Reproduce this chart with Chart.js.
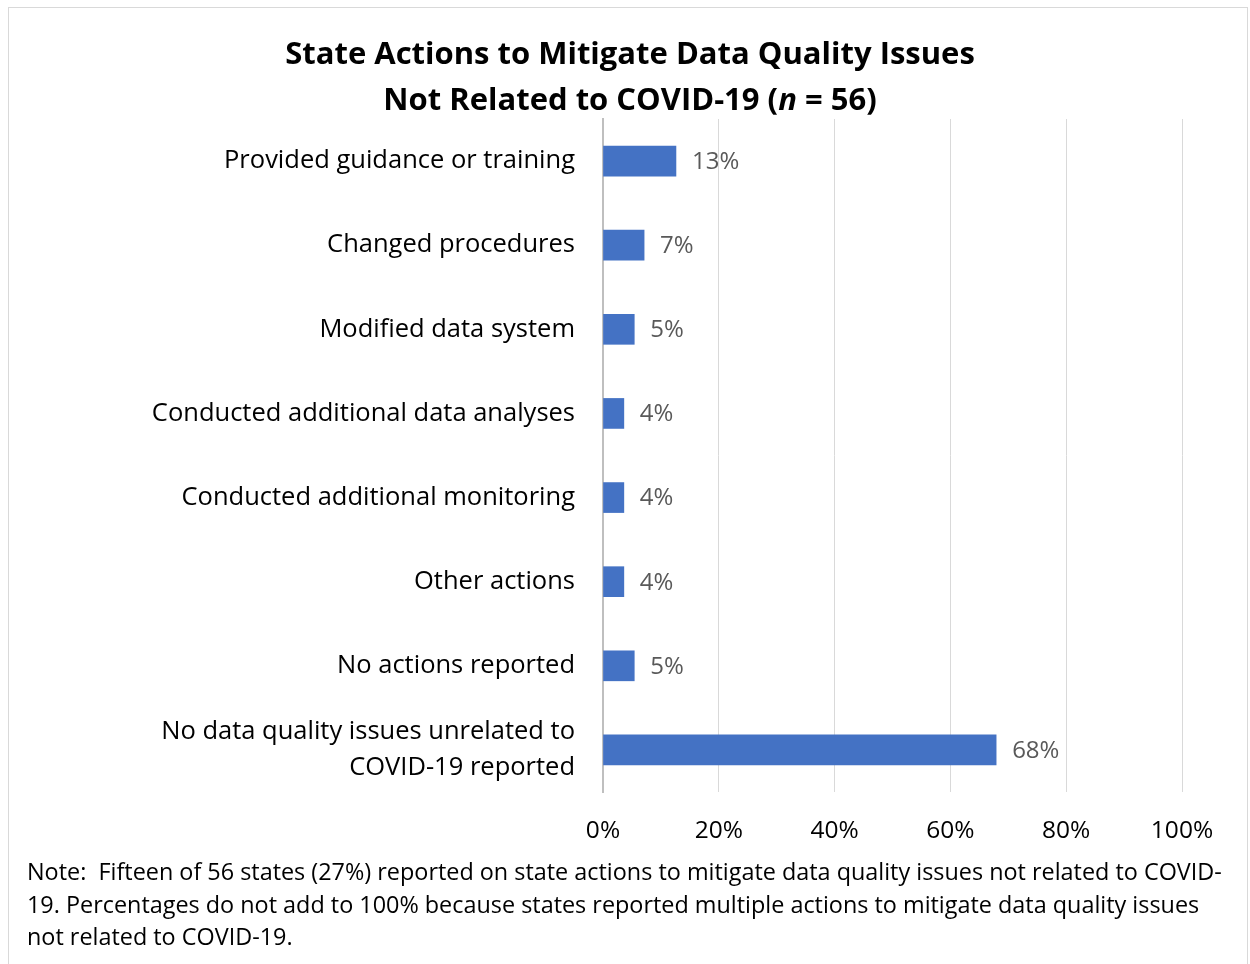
<!DOCTYPE html>
<html>
<head>
<meta charset="utf-8">
<script src="https://cdn.jsdelivr.net/npm/chart.js@4.4.0/dist/chart.umd.min.js"></script>
<style>
  body { margin: 0; background: #fff; font-family: "Open Sans", sans-serif; }
  #wrap { position: relative; width: 1250px; height: 964px; overflow: hidden; }
  #frame { position: absolute; left: 8px; top: 7px; width: 1238px; height: 970px; border: 1px solid #d9d9d9; }
  #title { position: absolute; left: 10px; top: 29px; width: 1240px; text-align: center;
           font-weight: bold; font-size: 31px; line-height: 46px; color: #000; }
  #note { position: absolute; left: 27px; top: 855px; font-size: 23.4px; line-height: 32.5px;
          color: #000; white-space: nowrap; }
  canvas { position: absolute; left: 0; top: 0; }
</style>
</head>
<body>
<div id="wrap">
  <div id="frame"></div>
  <canvas id="chart" width="1250" height="964"></canvas>
  <div id="title">State Actions to Mitigate Data Quality Issues<br>Not Related to COVID-19 (<i>n</i> = 56)</div>
  <div id="note">Note:&nbsp; Fifteen of 56 states (27%) reported on state actions to mitigate data quality issues not related to COVID-<br>19. Percentages do not add to 100% because states reported multiple actions to mitigate data quality issues<br>not related to COVID-19.</div>
</div>
<script>
// ==== Dữ liệu ====
const categories = [
  "Provided guidance or training",
  "Changed procedures",
  "Modified data system",
  "Conducted additional data analyses",
  "Conducted additional monitoring",
  "Other actions",
  "No actions reported",
  ["No data quality issues unrelated to", "COVID-19 reported"]
];
const percentValues = [12.6, 7.1, 5.4, 3.6, 3.6, 3.6, 5.4, 67.9];
const xTicks = [0, 20, 40, 60, 80, 100];

const FONT = "'Open Sans', sans-serif";

// vẽ nhãn giá trị bên phải mỗi thanh
const barLabels = {
  id: 'barLabels',
  afterDatasetsDraw(chart) {
    const ctx = chart.ctx;
    const meta = chart.getDatasetMeta(0);
    ctx.save();
    ctx.font = "24px " + FONT;
    ctx.fillStyle = "#595959";
    ctx.textAlign = "left";
    ctx.textBaseline = "middle";
    meta.data.forEach((bar, i) => {
      ctx.fillText(Math.round(percentValues[i]) + "%", bar.x + 16, bar.y + 1);
    });
    ctx.restore();
  }
};

new Chart(document.getElementById('chart'), {
  type: 'bar',
  data: {
    labels: categories,
    datasets: [{
      data: percentValues,
      backgroundColor: '#4472c4',
      barThickness: 30
    }]
  },
  options: {
    indexAxis: 'y',
    responsive: false,
    animation: false,
    layout: { padding: { top: 119, right: 68, bottom: 112, left: 0 } },
    plugins: {
      legend: { display: false },
      tooltip: { enabled: false }
    },
    scales: {
      x: {
        min: 0, max: 100,
        afterBuildTicks(scale) { scale.ticks = xTicks.map(v => ({ value: v })); },
        afterFit(scale) { scale.height = 60; },
        grid: { color: '#d9d9d9', lineWidth: 1, drawTicks: false },
        border: { display: false },
        ticks: {
          padding: 24,
          color: '#000',
          font: { family: FONT, size: 24.5 },
          callback: v => v + '%'
        }
      },
      y: {
        afterFit(scale) { scale.width = 603; },
        grid: { display: false, drawTicks: false },
        border: { display: true, color: '#bfbfbf', width: 2 },
        ticks: {
          padding: 28,
          color: '#000',
          font: { family: FONT, size: 25.5, lineHeight: 1.42 }
        }
      }
    }
  },
  plugins: [barLabels]
});
</script>
</body>
</html>
